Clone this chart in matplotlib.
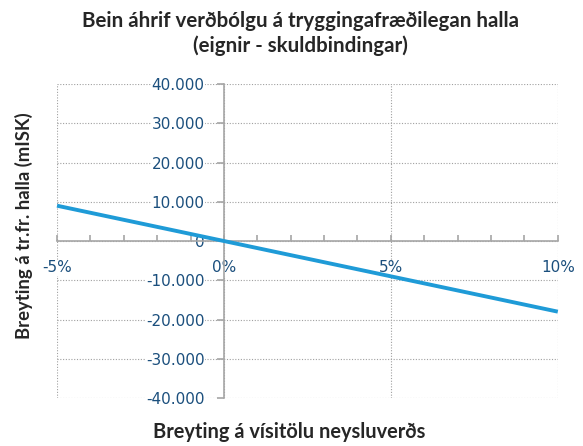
import numpy as np
import matplotlib
matplotlib.use("Agg")
import matplotlib.pyplot as plt
from matplotlib.ticker import MultipleLocator, FuncFormatter

# gögn lesin af myndinni
verdbolga = [-5, 10]            # breyting á vísitölu (%)
halli = [9000, -18000]          # breyting á tr.fr. halla (mISK)
y_ticks = [-40000, -30000, -20000, -10000, 0, 10000, 20000, 30000, 40000]
x_ticks = [-5, 0, 5, 10]

title = "Bein áhrif verðbólgu á tryggingafræðilegan halla\n(eignir - skuldbindingar)"
xlabel = "Breyting á vísitölu neysluverðs"
ylabel = "Breyting á tr.fr. halla (mISK)"

blue_line = "#1f9bd7"
tick_col = "#1b4f7d"
axis_col = "#a6a6a6"

fig = plt.figure(figsize=(5.83, 4.46), dpi=100)
ax = fig.add_axes([0.0978, 0.1076, 0.859, 0.704])

ax.plot(verdbolga, halli, color=blue_line, lw=2.8, zorder=5, clip_on=False,
        solid_capstyle="butt")

ax.set_xlim(-5, 10)
ax.set_ylim(-40000, 40000)

# ásar í núlli
ax.spines["left"].set_position(("data", 0))
ax.spines["bottom"].set_position(("data", 0))
ax.spines["right"].set_visible(False)
ax.spines["top"].set_visible(False)
for s in ("left", "bottom"):
    ax.spines[s].set_color(axis_col)
    ax.spines[s].set_linewidth(1.2)
    ax.spines[s].set_zorder(2)

ax.set_yticks(y_ticks)
ax.yaxis.set_major_formatter(FuncFormatter(
    lambda v, p: "0" if v == 0 else f"{v:,.0f}".replace(",", ".")))
ax.set_xticks(x_ticks)
ax.xaxis.set_major_formatter(FuncFormatter(lambda v, p: f"{v:.0f}%"))
ax.xaxis.set_minor_locator(MultipleLocator(1))

ax.tick_params(axis="y", direction="out", length=5, width=1.2, color=axis_col,
               labelsize=11, labelcolor=tick_col, pad=9)
ax.tick_params(axis="x", which="both", direction="in", length=4, width=1.2,
               color=axis_col, labelsize=11, labelcolor=tick_col, pad=14)

for lab in ax.get_yticklabels() + ax.get_xticklabels():
    lab.set_bbox(dict(facecolor="white", edgecolor="none", pad=0.5))

# punktalínur
ax.grid(True, which="major", linestyle=(0, (1, 1.5)), color="#a0a0a0", lw=0.8)
ax.set_axisbelow(True)

fig.text(0.515, 0.925, title, ha="center", va="center", fontsize=14.8,
         fontweight="bold", family="Lato", color="#262626", linespacing=1.3)
fig.text(0.496, 0.031, xlabel, ha="center", va="center", fontsize=14.4,
         fontweight="bold", family="Lato", color="#262626")
fig.text(0.041, 0.495, ylabel, ha="center", va="center", rotation=90,
         fontsize=13.3, fontweight="bold", family="Lato", color="#262626")

fig.savefig("out.png", dpi=100)
